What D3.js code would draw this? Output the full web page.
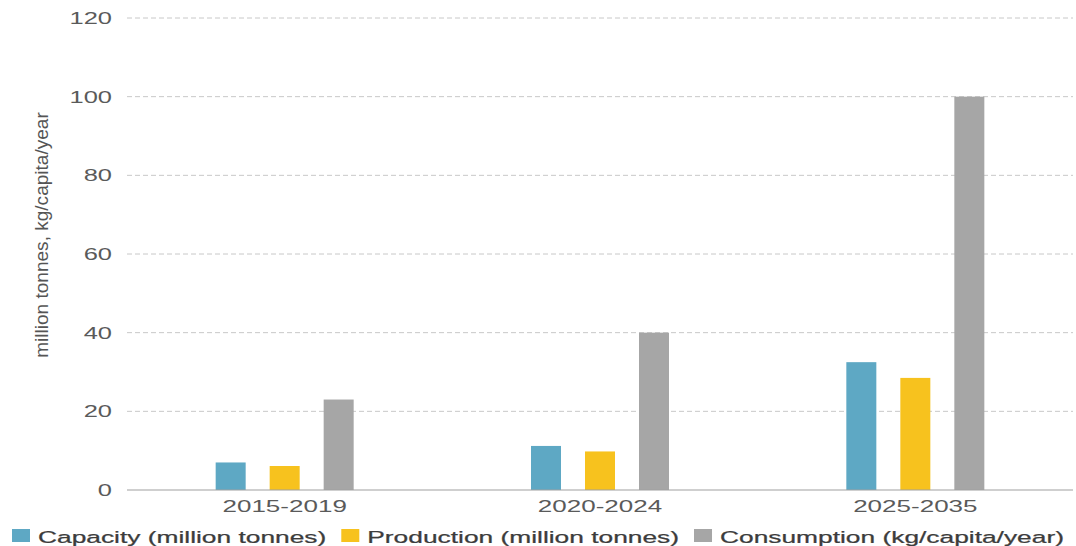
<!DOCTYPE html>
<html>
<head>
<meta charset="utf-8">
<script src="https://cdn.jsdelivr.net/npm/d3@7"></script>
<style>
  body { margin: 0; background: #fff; }
  text { font-family: "Liberation Sans", Arial, sans-serif; }
</style>
</head>
<body>
<div id="chart"></div>
<script>
// Data
const periods = ["2015-2019", "2020-2024", "2025-2035"];
const seriesNames = ["Capacity (million tonnes)", "Production (million tonnes)", "Consumption (kg/capita/year)"];
const capacity = [7, 11.2, 32.5];
const production = [6.1, 9.8, 28.5];
const consumption = [23, 40, 100];
const yTicks = [0, 20, 40, 60, 80, 100, 120];
const colors = ["#5ea8c4", "#f7c21e", "#a6a6a6"];

const width = 1076;
const height = 546;
const margin = {top: 18, right: 3, bottom: 56, left: 127};
const stretch = 1.5; // source text is widened horizontally

const svg = d3.select("#chart")
  .append("svg")
  .attr("width", width)
  .attr("height", height);

const rows = periods.map((p, i) => ({period: p, values: [capacity[i], production[i], consumption[i]]}));

// Scales
const x0 = d3.scaleBand()
  .domain(periods)
  .range([margin.left, width - margin.right]);

const groupWidth = 138;
const x1 = d3.scaleBand()
  .domain(d3.range(seriesNames.length))
  .range([0, groupWidth])
  .paddingInner(24 / 54);

const y = d3.scaleLinear()
  .domain([0, 120])
  .range([height - margin.bottom, margin.top]);

// Grid lines
svg.append("g")
  .selectAll("line")
  .data(yTicks.filter(d => d > 0))
  .enter()
  .append("line")
  .attr("x1", margin.left)
  .attr("x2", width - margin.right)
  .attr("y1", d => y(d))
  .attr("y2", d => y(d))
  .attr("stroke", "#c8c8c8")
  .attr("stroke-width", 1)
  .attr("stroke-dasharray", "5,3");

// Bars
const groups = svg.selectAll("g.group")
  .data(rows)
  .enter()
  .append("g")
  .attr("class", "group")
  .attr("transform", d => `translate(${x0(d.period) + (x0.bandwidth() - groupWidth) / 2},0)`);

groups.selectAll("rect")
  .data(d => d.values.map((v, i) => ({i, v})))
  .enter()
  .append("rect")
  .attr("x", d => x1(d.i))
  .attr("y", d => y(d.v))
  .attr("width", x1.bandwidth())
  .attr("height", d => y(0) - y(d.v))
  .attr("fill", d => colors[d.i]);

// Baseline
svg.append("line")
  .attr("x1", margin.left)
  .attr("x2", width - margin.right)
  .attr("y1", y(0))
  .attr("y2", y(0))
  .attr("stroke", "#a0a0a0")
  .attr("stroke-width", 1.2);

// Y tick labels
svg.append("g")
  .selectAll("g")
  .data(yTicks)
  .enter()
  .append("g")
  .attr("transform", d => `translate(112,${y(d) + 6})`)
  .append("text")
  .attr("transform", `scale(${stretch},1)`)
  .attr("text-anchor", "end")
  .attr("font-size", 17)
  .attr("fill", "#5a5a5a")
  .text(d => d);

// X labels
svg.append("g")
  .selectAll("g")
  .data(periods)
  .enter()
  .append("g")
  .attr("transform", d => `translate(${x0(d) + x0.bandwidth() / 2},${y(0) + 22})`)
  .append("text")
  .attr("transform", `scale(1.53,1)`)
  .attr("text-anchor", "middle")
  .attr("font-size", 17)
  .attr("fill", "#5a5a5a")
  .text(d => d);

// Y axis title
svg.append("text")
  .attr("transform", "translate(48,235) rotate(-90) scale(1.36,1.35)")
  .attr("text-anchor", "middle")
  .attr("font-size", 14)
  .attr("fill", "#555")
  .text("million tonnes, kg/capita/year");

// Legend
const legend = svg.append("g").attr("transform", "translate(12,0)");
let lx = 0;
seriesNames.forEach((name, i) => {
  legend.append("rect")
    .attr("x", lx)
    .attr("y", 529)
    .attr("width", 18)
    .attr("height", 13)
    .attr("fill", colors[i]);
  const t = legend.append("g")
    .attr("transform", `translate(${lx + 26},543)`)
    .append("text")
    .attr("transform", `scale(1.55,1)`)
    .attr("font-size", 17)
    .attr("fill", "#3c3c3c")
    .attr("stroke", "#3c3c3c")
    .attr("stroke-width", 0.25)
    .text(name);
  lx += 26 + t.node().getComputedTextLength() * 1.55 + 15;
});
</script>
</body>
</html>
